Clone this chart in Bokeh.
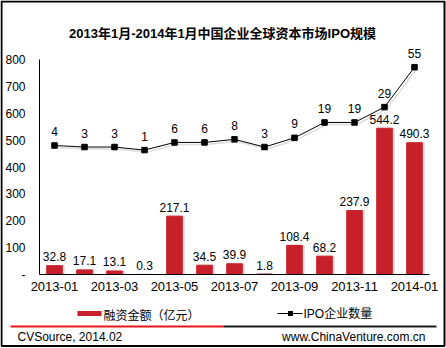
from bokeh.plotting import figure
from bokeh.models import (ColumnDataSource, Range1d, FixedTicker, LabelSet, Label,
                          BoxAnnotation)
from bokeh.core.properties import value
from bokeh.embed import file_html
from bokeh.resources import INLINE

# ---- data ----
months = ["2013-01", "2013-02", "2013-03", "2013-04", "2013-05", "2013-06", "2013-07",
          "2013-08", "2013-09", "2013-10", "2013-11", "2013-12", "2014-01"]
amount = [32.8, 17.1, 13.1, 0.3, 217.1, 34.5, 39.9, 1.8, 108.4, 68.2, 237.9, 544.2, 490.3]
ipo_count = [4, 3, 3, 1, 6, 6, 8, 3, 9, 19, 19, 29, 55]
y_ticks = [0, 100, 200, 300, 400, 500, 600, 700, 800]
title_text = "2013年1月-2014年1月中国企业全球资本市场IPO规模"
series_names = ["融资金额（亿元）", "IPO企业数量"]
source_text = "CVSource, 2014.02"
site_text = "www.ChinaVenture.com.cn"

LAT = "Liberation Sans, Noto Sans CJK SC"
CJK = "Noto Sans CJK SC, Liberation Sans"
RED = "#C8202A"

W, H = 446, 348
# plot-area pixel box inside the canvas
PL, PR, PT, PB = 39, 429, 59, 274
n = len(months)
Y0, Y1 = 0, 800          # primary axis
S0, S1 = -80, 60         # hidden secondary axis for counts

xpu = (PR - PL) / n      # pixels per category
ypu = (PB - PT) / (Y1 - Y0)
spu = (PB - PT) / (S1 - S0)

def X(cx):
    return -0.5 + (cx - PL) / xpu

def Y(cy):
    return Y0 + (PB - cy) / ypu

x_range = Range1d(X(0), X(W))
y_range = Range1d(Y(H), Y(0))
s_range = Range1d(S0 - (H - PB) / spu, S1 + PT / spu)

idx = list(range(n))
src = ColumnDataSource(dict(
    x=idx,
    xs=[i + 2 / xpu for i in idx],
    amount=amount,
    amount_lbl=[f"{v:.1f}" for v in amount],
    ipo=ipo_count,
    ipo_s=[v - 2 / spu for v in ipo_count],
    ipo_lbl=[str(v) for v in ipo_count],
))

p = figure(width=W, height=H, output_backend="svg", toolbar_location=None,
           x_range=x_range, y_range=y_range)
p.min_border = 0
p.outline_line_color = None
p.grid.visible = False
p.background_fill_color = "white"
p.border_fill_color = "white"
p.extra_y_ranges = {"ipo": s_range}

# axes drawn at fixed positions inside the canvas
p.xaxis.fixed_location = Y0
p.yaxis.fixed_location = -0.5
p.xaxis.bounds = (-0.5, n - 0.5)
p.yaxis.bounds = (Y0, Y1)
p.xaxis.ticker = FixedTicker(ticks=idx[::2])
p.xaxis.major_label_overrides = {i: months[i] for i in idx[::2]}
p.yaxis.ticker = FixedTicker(ticks=y_ticks)
p.yaxis.major_label_overrides = {0: "-"}
for ax in (p.xaxis[0], p.yaxis[0]):
    ax.axis_line_color = "black"
    ax.axis_line_width = 1
    ax.major_tick_line_color = None
    ax.minor_tick_line_color = None
    ax.major_tick_out = 0
    ax.major_tick_in = 0
    ax.minor_tick_out = 0
    ax.minor_tick_in = 0
    ax.major_label_text_font = "Liberation Sans"
    ax.major_label_text_color = "black"
p.xaxis.major_label_text_font_size = "13px"
p.yaxis.major_label_text_font_size = "12px"
p.xaxis.major_label_standoff = 7
p.yaxis.major_label_standoff = 14

# bars
p.vbar(x="xs", top="amount", width=0.52, source=src, color="#bdbdbd", alpha=0.45)
p.vbar(x="x", top="amount", width=0.52, source=src, color=RED)
p.add_layout(LabelSet(x="x", y="amount", text="amount_lbl", source=src, y_offset=9,
                      text_align="center", text_baseline="middle",
                      text_font=value("Liberation Sans"), text_font_size=value("12px"),
                      text_color="black"))

# line on hidden secondary scale
p.line(x="xs", y="ipo_s", source=src, y_range_name="ipo", color="#9a9a9a",
       line_width=1.5, alpha=0.35)
p.line(x="x", y="ipo", source=src, y_range_name="ipo", color="black", line_width=1)
p.scatter(x="x", y="ipo", source=src, y_range_name="ipo", marker="square", size=5.5,
          color="black")
p.add_layout(LabelSet(x="x", y="ipo", text="ipo_lbl", source=src, y_range_name="ipo",
                      y_offset=14, text_align="center", text_baseline="middle",
                      text_font=value("Liberation Sans"), text_font_size=value("12px"),
                      text_color="black"))

def box(l, r, t, b, fill=None, line=None, lw=1):
    p.add_layout(BoxAnnotation(left=X(l), right=X(r), top=Y(t), bottom=Y(b),
                               fill_color=fill, fill_alpha=1 if fill else 0,
                               line_color=line, line_width=lw,
                               line_alpha=1 if line else 0, editable=False))

def label(cx, cy, text, font, size, align="left", bold=False):
    p.add_layout(Label(x=X(cx), y=Y(cy), text=text, text_align=align,
                       text_baseline="middle", text_font=font, text_font_size=size,
                       text_font_style="bold" if bold else "normal",
                       text_color="black"))

# title
label(222, 33, title_text, LAT, "13px", align="center", bold=True)

# legend
box(77, 101, 310.5, 315.5, fill=RED)
label(103, 313.5, series_names[0], CJK, "12px")
box(277, 302, 312.5, 313.5, fill="black")
box(287.5, 292.5, 310.5, 315.5, fill="black")
label(303, 313.5, series_names[1], LAT, "12px")

# bottom rule
box(10, 223, 325, 327, fill="#E8161B")
box(223, 436, 325, 327, fill="#1a1a1a")

# footer
label(17, 336, source_text, "Liberation Sans", "12px")
label(425, 336, site_text, "Liberation Sans", "12px", align="right")

# outer border
box(1, 444, 1, 345.5, line="black", lw=2)

open("out.html", "w").write(file_html(p, INLINE))
